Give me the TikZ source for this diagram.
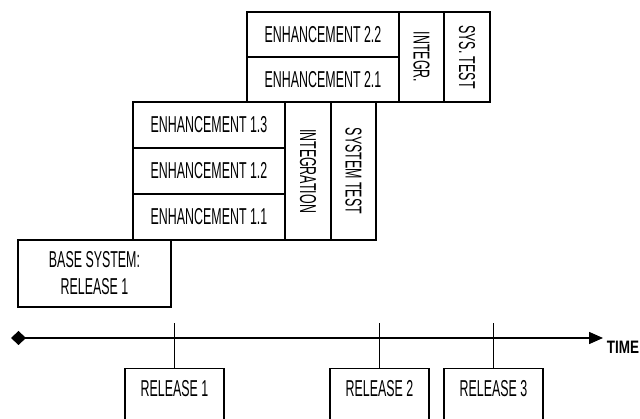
\documentclass[tikz,border=0pt]{standalone}
\usepackage{fontspec}
\setmainfont{Liberation Sans}[FakeStretch=0.54]
\newfontfamily\timefont{Liberation Sans}[FakeStretch=0.75]
\usetikzlibrary{arrows.meta}
\begin{document}
\begin{tikzpicture}[x=1pt,y=-1pt,line width=1.5pt,
  blk/.style={draw,inner sep=0pt,font=\fontsize{23}{26}\selectfont},
  wide/.style={blk,minimum width=152pt,minimum height=46pt},
  tall/.style={blk,minimum width=46pt,rotate=-90},
  rel/.style={blk,anchor=north,minimum width=99pt,text height=28pt,text depth=60pt}]
\useasboundingbox (0,0) rectangle (640,419);
% second increment
\node[wide,minimum height=45pt] (enhTwoTwo) at (323,34.5) {ENHANCEMENT 2.2};
\node[wide,minimum height=45pt] (enhTwoOne) at (323,79.5) {ENHANCEMENT 2.1};
\node[tall,minimum width=90pt,minimum height=45pt] (integrTwo) at (421.5,57) {INTEGR.};
\node[tall,minimum width=90pt,minimum height=46pt] (sysTestTwo) at (467,57) {SYS. TEST};
% first increment
\node[wide] (enhOneThree) at (209,125) {ENHANCEMENT 1.3};
\node[wide] (enhOneTwo) at (209,171) {ENHANCEMENT 1.2};
\node[wide] (enhOneOne) at (209,217) {ENHANCEMENT 1.1};
\node[tall,minimum width=138pt,minimum height=46pt] (integrOne) at (308,171) {INTEGRATION};
\node[tall,minimum width=138pt,minimum height=45pt] (sysTestOne) at (353.5,171) {SYSTEM TEST};
% base
\node[blk,minimum width=153pt,minimum height=67pt,align=center] (base) at (94.5,273.5) {BASE SYSTEM:\\[1pt]RELEASE 1};
% time axis
\coordinate (start) at (11,338);
\coordinate (tip) at (603,338);
\coordinate (tickTop) at (0,323);
\draw[{Diamond[length=15pt,width=14pt]}-{Triangle[length=14pt,width=12pt]}] (start) -- (tip);
\node[anchor=west,inner sep=0pt,font=\timefont\fontsize{18}{20}\selectfont\bfseries] (time) at (606,347) {TIME};
\node[rel] (relOne) at (174.5,368) {RELEASE 1};
\node[rel] (relTwo) at (379.5,368) {RELEASE 2};
\node[rel] (relThree) at (493.5,368) {RELEASE 3};
\foreach \r in {relOne,relTwo,relThree}
  \draw (\r.north) -- (\r.north |- tickTop);
\end{tikzpicture}
\end{document}
